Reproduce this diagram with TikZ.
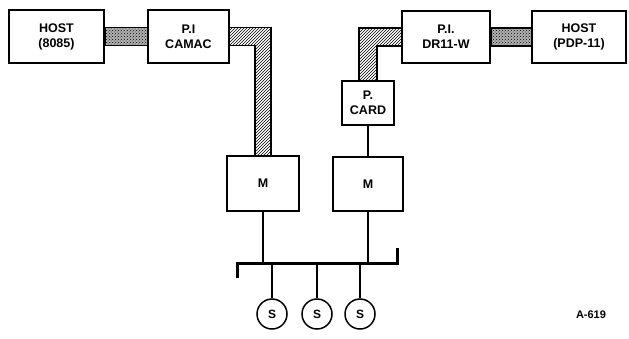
\documentclass[tikz,border=0pt]{standalone}
\usepackage{fontspec}
\setmainfont{Liberation Sans}
\usetikzlibrary{patterns,calc}
\begin{document}
\begin{tikzpicture}[x=1pt,y=-1pt,
  box/.style={draw,line width=1.5pt,align=center,inner sep=0pt,font=\bfseries\fontsize{12.5}{15}\selectfont},
  band/.style={draw,line width=1.5pt},
  wire/.style={line width=1.5pt},
  snode/.style={draw,circle,line width=1.5pt,minimum size=30pt,inner sep=0pt,font=\bfseries\fontsize{12}{14}\selectfont}]
\useasboundingbox (0,0) rectangle (629,338);
% boxes
\node[box,minimum width=95pt,minimum height=53pt] (h1) at (56.5,36.5) {HOST\\(8085)};
\node[box,minimum width=81pt,minimum height=53pt] (p1) at (188.5,36.5) {P.I\\CAMAC};
\node[box,minimum width=88pt,minimum height=52pt] (p2) at (446,37) {P.I.\\DR11-W};
\node[box,minimum width=94pt,minimum height=52pt] (h2) at (579,37) {HOST\\(PDP-11)};
\node[box,minimum width=52pt,minimum height=44pt] (pc) at (368,103) {P.\\CARD};
\node[box,minimum width=72pt,minimum height=55pt] (m1) at (263,183.5) {M};
\node[box,minimum width=70pt,minimum height=54pt] (m2) at (368,184) {M};
\node[snode] (s1) at (272,314) {S};
\node[snode] (s2) at (317,314) {S};
\node[snode] (s3) at (360,314) {S};
\node[font=\bfseries\fontsize{11}{13}\selectfont] (lab) at (591,315) {A-619};
% dotted host links
\path[band,preaction={fill=black!30},pattern=crosshatch dots] ($(h1.east)+(0,-9)$) rectangle ($(p1.west)+(0,9)$);
\path[band,preaction={fill=black!30},pattern=crosshatch dots] ($(p2.east)+(0,-9)$) rectangle ($(h2.west)+(0,9)$);
% hatched L links
\coordinate (a1) at ($(p1.east)+(0,-9)$);
\coordinate (a2) at ($(p1.east)+(0,9)$);
\coordinate (c1) at ($(m1.north)+(8,0)$);
\coordinate (c2) at ($(m1.north)+(-8,0)$);
\path[band,pattern=north east lines]
  (a1) -- (c1 |- a1) -- (c1) -- (c2) -- (c2 |- a2) -- (a2);
\coordinate (b1) at ($(p2.west)+(0,-9)$);
\coordinate (b2) at ($(p2.west)+(0,9)$);
\coordinate (d1) at ($(pc.north)+(-9,0)$);
\coordinate (d2) at ($(pc.north)+(9,0)$);
\path[band,pattern=north east lines]
  (b1) -- (d1 |- b1) -- (d1) -- (d2) -- (d2 |- b2) -- (b2);
% bus
\coordinate (busL) at (237,263);
\coordinate (busR) at (397,263);
\draw[line width=3pt] ($(busL)+(0,15)$) -- (busL) -- (busR) -- ($(busR)+(0,-15)$);
% wires
\draw[wire] (pc.south) -- (m2.north);
\draw[wire] (m1.south) -- (m1.south |- busL);
\draw[wire] (m2.south) -- (m2.south |- busL);
\draw[wire] (s1.north) -- (s1.north |- busL);
\draw[wire] (s2.north) -- (s2.north |- busL);
\draw[wire] (s3.north) -- (s3.north |- busL);
\end{tikzpicture}
\end{document}
